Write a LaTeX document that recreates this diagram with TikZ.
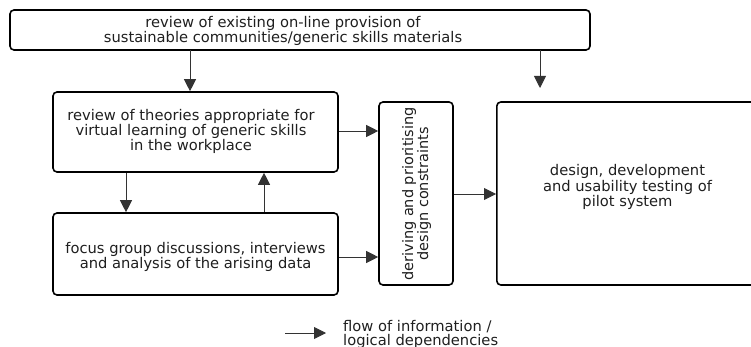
\documentclass[tikz,border=0pt]{standalone}
\usepackage{fontspec}
\setmainfont{DejaVu Sans}
\usetikzlibrary{arrows.meta}
\begin{document}
\begin{tikzpicture}[x=1pt,y=-1pt,
  box/.style={draw=black,line width=1.6pt,rounded corners=4pt,inner sep=0pt},
  flow/.style={line width=0.9pt,draw=black!80,-{Triangle[length=12pt,width=12pt]}},
  txt/.style={text=black!88,align=center,inner sep=0pt}]
\useasboundingbox (0,0) rectangle (751,347);
\clip (0,0) rectangle (751,347);
\node[box,minimum width=580pt,minimum height=40pt] (top) at (300,30) {};
\node[txt,font=\fontsize{14.7}{15}\selectfont] (toptxt) at (283,30.5)
  {review of existing on-line provision of\\sustainable communities/generic skills materials};
\node[box,minimum width=285pt,minimum height=80pt] (theo) at (195.5,132) {};
\node[txt,font=\fontsize{14.7}{14}\selectfont] (theotxt) at (191,131.5)
  {review of theories appropriate for\\virtual learning of generic skills\\in the workplace};
\node[box,minimum width=285pt,minimum height=82pt] (focus) at (195.5,254) {};
\node[txt,font=\fontsize{14.7}{15}\selectfont] (focustxt) at (195.5,256.5)
  {focus group discussions, interviews\\and analysis of the arising data};
\node[box,minimum width=74pt,minimum height=183pt] (der) at (416,193.5) {};
\node[txt,rotate=90,font=\fontsize{14.5}{15}\selectfont] (dertxt) at (416.5,194)
  {deriving and prioritising\\design constraints};
\node[box,minimum width=270pt,minimum height=183pt,anchor=west] (des) at (496,193.5) {};
\node[txt,font=\fontsize{14.7}{14}\selectfont] (destxt) at (627.5,187)
  {design, development\\and usability testing of\\pilot system};
\coordinate (t1) at (190,50);
\coordinate (t2) at (540,50);
\coordinate (d2) at (540,88);
\draw[flow] (t1) -- (theo.north -| t1);
\draw[flow] (t2) -- (d2);
\draw[flow] (theo.east |- 0,131) -- (der.west |- 0,131);
\draw[flow] (focus.east |- 0,257) -- (der.west |- 0,257);
\draw[flow] (der.east |- 0,194) -- (des.west |- 0,194);
\draw[flow] (theo.south -| 126,0) -- (focus.north -| 126,0);
\draw[flow] (focus.north -| 264,0) -- (theo.south -| 264,0);
\coordinate (la) at (285,333);
\coordinate (lb) at (326,333);
\draw[flow] (la) -- (lb);
\node[txt,align=left,anchor=west,font=\fontsize{14.7}{14}\selectfont] (leg) at (343,334)
  {flow of information /\\logical dependencies};
\end{tikzpicture}
\end{document}
